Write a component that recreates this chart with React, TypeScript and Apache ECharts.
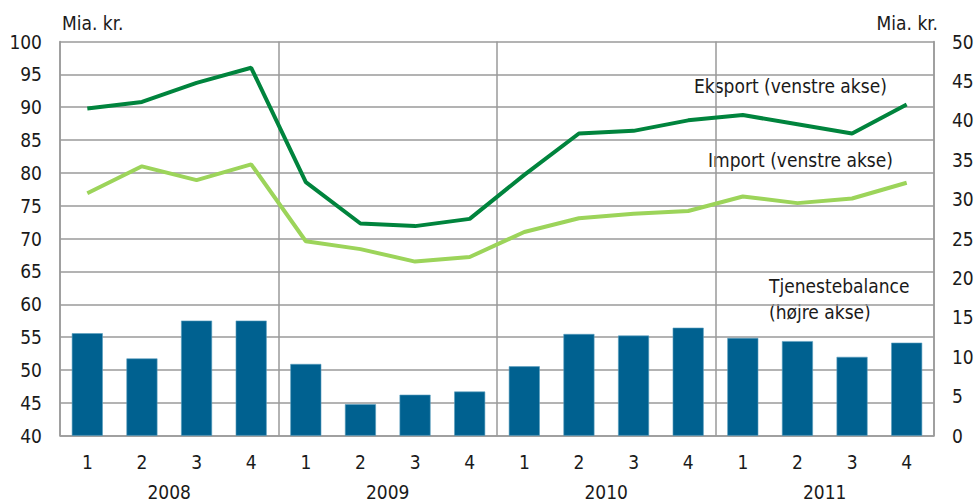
import React, { useEffect, useRef } from "react";
import * as echarts from "echarts";

const quarters = ["1", "2", "3", "4", "1", "2", "3", "4", "1", "2", "3", "4", "1", "2", "3", "4"];
const years = ["2008", "2009", "2010", "2011"];
const eksport = [89.8, 90.8, 93.7, 96.0, 78.6, 72.3, 71.9, 73.0, 79.7, 86.0, 86.4, 88.0, 88.8, 87.4, 86.0, 90.4];
const importVals = [76.9, 81.0, 78.9, 81.3, 69.6, 68.4, 66.5, 67.2, 71.0, 73.1, 73.8, 74.2, 76.4, 75.4, 76.1, 78.5];
const tjenestebalance = [13.0, 9.8, 14.6, 14.6, 9.1, 4.0, 5.2, 5.6, 8.8, 12.9, 12.7, 13.7, 12.4, 12.0, 10.0, 11.8];
const leftTicks = { min: 40, max: 100, interval: 5 };
const rightTicks = { min: 0, max: 50, interval: 5 };

const FONT = "'Liberation Sans Narrow', 'DejaVu Sans Condensed', 'Noto Sans', sans-serif";
const GRID = "#9a9a9a";
const TXT = "#1a1a1a";

export default function App() {
  const ref = useRef<HTMLDivElement>(null);
  useEffect(() => {
    if (!ref.current) return;
    const chart = echarts.init(ref.current, undefined, { renderer: "svg" });
    const textStyle = (s: string, x: number, y: number, align: string = "left") => ({
      type: "text",
      x,
      y,
      style: { text: s, fill: TXT, font: `19px ${FONT}`, textAlign: align, textVerticalAlign: "middle" },
    });
    chart.setOption({
      animation: false,
      textStyle: { fontFamily: FONT },
      grid: { left: 60, right: 43, top: 41.5, bottom: 67.3, containLabel: false },
      xAxis: [
        {
          type: "category",
          data: quarters,
          position: "bottom",
          axisLine: { show: true, lineStyle: { color: GRID, width: 1.5 } },
          axisTick: { show: false },
          axisLabel: { color: TXT, fontSize: 19, fontFamily: FONT, margin: 17 },
          splitLine: { show: false },
        },
        {
          type: "category",
          data: years,
          position: "bottom",
          offset: 30,
          axisLine: { show: false },
          axisTick: { show: false },
          axisLabel: { color: TXT, fontSize: 19, fontFamily: FONT, margin: 17 },
          splitLine: { show: true, lineStyle: { color: GRID, width: 1.5 } },
        },
      ],
      yAxis: [
        {
          type: "value",
          position: "left",
          ...leftTicks,
          axisLine: { show: true, lineStyle: { color: GRID, width: 1.5 } },
          axisTick: { show: false },
          axisLabel: { color: TXT, fontSize: 19, fontFamily: FONT, margin: 18 },
          splitLine: { show: true, lineStyle: { color: GRID, width: 1.5 } },
        },
        {
          type: "value",
          position: "right",
          ...rightTicks,
          axisLine: { show: true, lineStyle: { color: GRID, width: 1.5 } },
          axisTick: { show: false },
          axisLabel: { color: TXT, fontSize: 19, fontFamily: FONT, margin: 18 },
          splitLine: { show: false },
        },
      ],
      series: [
        {
          name: "Tjenestebalance",
          type: "bar",
          xAxisIndex: 0,
          yAxisIndex: 1,
          data: tjenestebalance,
          barWidth: 31,
          itemStyle: { color: "#006190", borderColor: "#5a9fc0", borderWidth: 0.6 },
          z: 3,
        },
        {
          name: "Import",
          type: "line",
          xAxisIndex: 0,
          yAxisIndex: 0,
          data: importVals,
          showSymbol: false,
          lineStyle: { color: "#9cd45a", width: 4 },
          z: 4,
        },
        {
          name: "Eksport",
          type: "line",
          xAxisIndex: 0,
          yAxisIndex: 0,
          data: eksport,
          showSymbol: false,
          lineStyle: { color: "#00843d", width: 4 },
          z: 5,
        },
      ],
      graphic: [
        textStyle("Mia. kr.", 62, 23),
        textStyle("Mia. kr.", 938, 23, "right"),
        textStyle("Eksport (venstre akse)", 694, 86),
        textStyle("Import (venstre akse)", 708, 160),
        textStyle("Tjenestebalance", 769, 286),
        textStyle("(højre akse)", 769, 312),
      ],
    });
    return () => chart.dispose();
  }, []);
  return <div ref={ref} style={{ width: 977, height: 503, position: "absolute", left: 0, top: 0 }} />;
}
